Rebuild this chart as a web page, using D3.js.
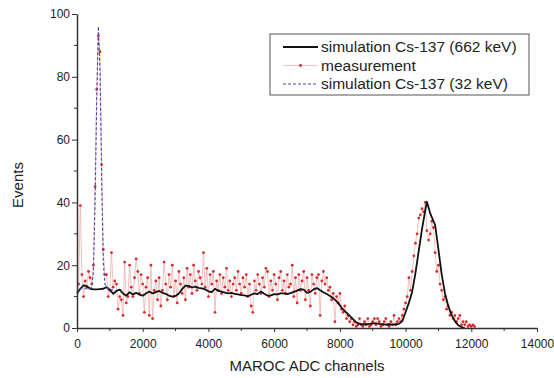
<!DOCTYPE html>
<html><head><meta charset="utf-8">
<script src="https://cdn.jsdelivr.net/npm/d3@7"></script>
<style>body{margin:0;background:#fff}svg{display:block}text{font-family:"Liberation Sans",Arial,sans-serif;fill:#222}</style>
</head><body><svg id="c" width="554" height="378"></svg>
<script>
// ---- data ----
const xTicks = [0, 2000, 4000, 6000, 8000, 10000, 12000, 14000];
const yTicks = [0, 20, 40, 60, 80, 100];
const measStart = 50, measStep = 50;
const measurement = [
 14,39,17,10,15,13,18,16,14,
 20,45,76,93,88,52,25,17,
 17,10,12,24,13,15,14,6,10,9,4,21,8,10,20,13,10,16,22,18,11,17,14,5,13,16,4,20,3,12,15,9,16,7,12,21,14,9,17,13,20,10,15,8,18,14,11,
 16,9,19,13,17,11,20,15,12,18,16,14,24,13,19,10,17,14,18,5,15,12,17,11,16,13,19,12,15,10,14,16,
 12,18,14,11,16,13,17,10,14,7,5,15,12,17,14,11,16,13,19,18,10,15,12,17,14,9,16,18,12,15,11,17,13,14,20,10,16,8,17,12,15,18,9,16,12,7,17,14,11,
 16,17,4,15,18,14,16,12,13,9,11,2,10,8,11,6,5,7,3,4,2,3,1,2,0.5,1,3,1,0.5,2,1,3,0.5,1,2,3,1,3,2,0.5,1,2,3,1,0.5,2,1,4,1,2,3,2,4,6,
 8,10,16,12,18,23,27,30,35,36,38,37,40,31,28,30,34,32,24,18,20,14,12,9,10,6,7,4,5,3,4,2,3,4,1,2,1,2,0.5,1,0.5,1,0.5
];
const sim662X = [0,100,200,300,400,500,600,700,800,900,1000,1100,1200,1300,1400,1500,1600,1700,1800,1900,2000,2100,2200,2300,2400,2500,2600,2700,2800,2900,3000,3100,3200,3300,3400,3500,3600,3700,3800,3900,4000,4100,4200,4300,4400,4500,4600,4700,4800,4900,5000,5100,5200,5300,5400,5500,5600,5700,5800,5900,6000,6100,6200,6300,6400,6500,6600,6700,6800,6900,7000,7100,7200,7300,7400,7500,7600,7700,7800,7900,8000,8100,8200,8300,8400,8500,8600,8700,8800,8900,9000,9100,9200,9300,9400,9500,9600,9700,9800,9900,10000,10100,10200,10300,10400,10500,10600,10650,10750,10900,11000,11100,11200,11300,11400,11500,11600,11700,11800];
const sim662Y = [11,12.5,13.6,13.3,12.5,12.3,12.3,12.4,12.5,13,12.2,10.9,11.8,12.2,11,10.3,11.4,10.7,11.2,10.6,10.3,11,11.6,11,11.4,11.8,11.2,10.9,10.3,10,10.2,11,12.4,13.5,13.4,12.9,13.2,12.8,12.6,12.3,11.7,11.4,12.5,11.8,11.6,11.3,11,11.2,10.9,10.7,10.5,10.4,10.1,10.6,11,10.8,11.6,10.9,10.3,10.4,10.8,10.7,11,11,10.8,11.1,11.5,11.9,12.4,12.2,11.2,11.5,12.3,12.7,12,11.4,10.8,10.2,9.5,8.5,7.2,5.9,4.9,3.9,2.8,1.8,1.3,1.2,1.2,1.3,1.5,1.5,1.3,1.2,1.1,1.2,1.1,1.2,1.3,2.2,5,8,11.5,17.5,24.5,31.5,37.5,40.2,36.5,32.8,25,17,11,7,4.2,2.2,0.9,0.3,0];
const sim32X = [0,50,100,150,200,250,300,350,400,450,500,550,600,650,700,750,800,850,900,950,1000,1050,1100];
const sim32Y = [11,12,12.5,12.5,12.5,12.5,12.5,12.5,12.5,13,18,40,72,96,82,48,21,14,13,12.5,12.3,12.2,12];
const legendLabels = ["simulation Cs-137 (662 keV)", "measurement", "simulation Cs-137 (32 keV)"];

// ---- chart ----
const svg = d3.select("#c");
const x = d3.scaleLinear().domain([0, 14000]).range([77, 537]);
const y = d3.scaleLinear().domain([0, 100]).range([328, 14]);
const measData = measurement.map((v, i) => [measStart + i * measStep, v]);
const pink = "#f0b0b0", red = "#d82a2a", blue = "#4646b4";

const line = d3.line().x(d => x(d[0])).y(d => y(d[1]));

svg.append("path").datum(measData).attr("d", line)
  .attr("fill", "none").attr("stroke", pink).attr("stroke-width", 0.8);
svg.append("g").selectAll("circle").data(measData).join("circle")
  .attr("cx", d => x(d[0])).attr("cy", d => y(d[1])).attr("r", 1.4)
  .attr("fill", red);
svg.append("path").datum(sim662X.map((v, i) => [v, sim662Y[i]])).attr("d", line)
  .attr("fill", "none").attr("stroke", "#111").attr("stroke-width", 1.8).attr("stroke-linejoin", "round");
svg.append("path").datum(sim32X.map((v, i) => [v, sim32Y[i]])).attr("d", line)
  .attr("fill", "none").attr("stroke", blue).attr("stroke-width", 1.1).attr("stroke-dasharray", "3,2");

// axes
const xAxis = svg.append("g").attr("transform", "translate(0,328)")
  .call(d3.axisBottom(x).tickValues(xTicks).tickFormat(d3.format("d")).tickSize(4).tickSizeOuter(0));
const yAxis = svg.append("g").attr("transform", "translate(77,0)")
  .call(d3.axisLeft(y).tickValues(yTicks).tickSize(5).tickSizeOuter(0));
// minor ticks
svg.append("g").selectAll("line").data(d3.range(1000, 14000, 2000)).join("line")
  .attr("x1", d => x(d)).attr("x2", d => x(d)).attr("y1", 328).attr("y2", 331).attr("stroke", "#333");
svg.append("g").selectAll("line").data(d3.range(10, 100, 20)).join("line")
  .attr("y1", d => y(d)).attr("y2", d => y(d)).attr("x1", 77).attr("x2", 74).attr("stroke", "#333");
[xAxis, yAxis].forEach(g => {
  g.select(".domain").attr("stroke", "#333").attr("stroke-width", 1.5);
  g.selectAll(".tick line").attr("stroke", "#333");
  g.selectAll(".tick text").attr("font-size", 12).attr("fill", "#222")
   .style("font-family", '"Liberation Sans",Arial,sans-serif');
});
xAxis.selectAll(".tick text").attr("dy", "1.05em");
yAxis.selectAll(".tick text").attr("x", -7);

svg.append("text").attr("x", 307).attr("y", 371).attr("text-anchor", "middle").attr("font-size", 15).text("MAROC ADC channels");
svg.append("text").attr("transform", "translate(23,185) rotate(-90)").attr("text-anchor", "middle").attr("font-size", 15).text("Events");

// legend
const lg = svg.append("g");
lg.append("rect").attr("x", 270).attr("y", 34).attr("width", 259).attr("height", 61)
  .attr("fill", "#fff").attr("stroke", "#555").attr("stroke-width", 1);
const rows = [47, 65.5, 84];
lg.append("line").attr("x1", 283).attr("x2", 318).attr("y1", rows[0]).attr("y2", rows[0]).attr("stroke", "#111").attr("stroke-width", 1.8);
lg.append("line").attr("x1", 283).attr("x2", 318).attr("y1", rows[1]).attr("y2", rows[1]).attr("stroke", pink).attr("stroke-width", 0.8);
lg.append("circle").attr("cx", 300.5).attr("cy", rows[1]).attr("r", 1.4).attr("fill", red);
lg.append("line").attr("x1", 283).attr("x2", 318).attr("y1", rows[2]).attr("y2", rows[2]).attr("stroke", blue).attr("stroke-width", 1.1).attr("stroke-dasharray", "3,2");
legendLabels.forEach((t, i) => lg.append("text").attr("x", 321).attr("y", rows[i]).attr("dy", "0.35em").attr("font-size", 15.5).text(t));
</script></body></html>
